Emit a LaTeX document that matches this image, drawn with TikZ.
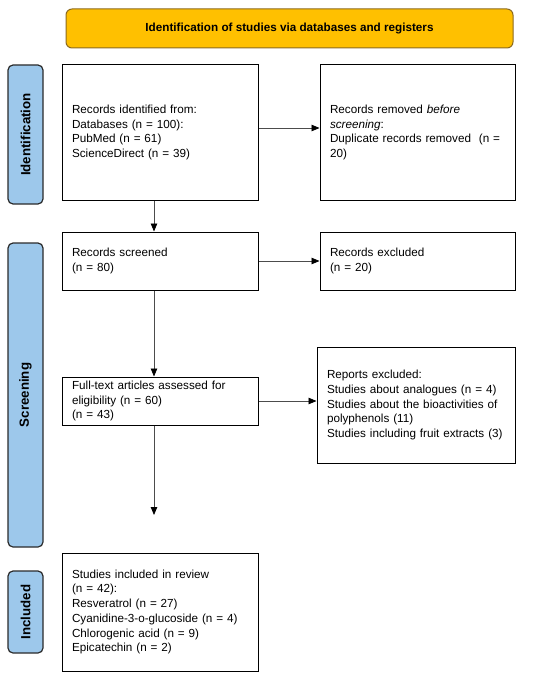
\documentclass[tikz,border=0pt]{standalone}
\usepackage{fontspec}
\setmainfont{Liberation Sans}
\usepackage{tikz}
\usepackage{xcolor}
\usetikzlibrary{arrows.meta}

\definecolor{bannerfill}{HTML}{FFC000}
\definecolor{bannerline}{HTML}{8C6A1E}
\definecolor{sidefill}{HTML}{9DC8EB}
\definecolor{sideline}{HTML}{2B2B2B}

\tikzset{
  box/.style={draw=black, line width=1pt, fill=white, align=left, inner xsep=10pt, inner ysep=2pt,
    font=\fontsize{11.7}{14.7}\selectfont},
  sidelab/.style={draw=sideline, fill=sidefill, line width=1.2pt, rounded corners=5pt,
    minimum height=35pt, font=\fontsize{13.3}{15}\selectfont\bfseries, rotate=90},
  banner/.style={draw=bannerline, fill=bannerfill, line width=1pt, rounded corners=6pt,
    font=\fontsize{11.7}{13}\selectfont\bfseries},
  arr/.style={draw=gray!60!black, line width=0.8pt, -{Triangle[length=8pt,width=6.5pt,black]}}
}

\begin{document}
\begin{tikzpicture}[x=1pt, y=-1pt]
\useasboundingbox (0,0) rectangle (550,677);

% header
\node[banner, minimum width=447pt, minimum height=39pt] (head) at (289.5,28.5) {Identification of studies via databases and registers};

% side labels
\node[sidelab, minimum width=139pt] (lid) at (25.5,134.5) {Identification};
\node[sidelab, minimum width=304pt] (lsc) at (25.5,395) {Screening};
\node[sidelab, minimum width=82pt] (lin) at (25.5,612) {Included};

% left column
\node[box, text width=176pt, minimum height=135pt] (ident) at (160,132.5) {Records identified from:\\Databases (n = 100):\\PubMed (n = 61)\\ScienceDirect (n = 39)};
\node[box, text width=176pt, minimum height=58pt] (scr) at (160,261) {Records screened\\(n = 80)};
\node[box, text width=176pt, minimum height=48pt] (full) at (160,401) {Full-text articles assessed for\\eligibility (n = 60)\\(n = 43)};
\node[box, text width=176pt, minimum height=118pt] (incl) at (160,612) {Studies included in review\\(n = 42):\\Resveratrol (n = 27)\\Cyanidine-3-o-glucoside (n = 4)\\Chlorogenic acid (n = 9)\\Epicatechin (n = 2)};

% right column
\node[box, text width=175pt, minimum height=135pt] (dupl) at (417.5,132.5) {Records removed \textit{before}\\\textit{screening}:\\Duplicate records removed~~(n =\\20)};
\node[box, text width=175pt, minimum height=58pt] (excl) at (417.5,261) {Records excluded\\(n = 20)};
\node[box, text width=178pt, minimum height=116pt] (rep) at (416,405) {Reports excluded:\\Studies about analogues (n = 4)\\Studies about the bioactivities of\\polyphenols (11)\\Studies including fruit extracts (3)};

\coordinate (col) at (154,0);
\coordinate (stop) at (154,515);

% connectors
\draw[arr] ([yshift=4.5pt]ident.east) -- ([yshift=4.5pt]ident.east -| dupl.west);
\draw[arr] (scr.east) -- (scr.east -| excl.west);
\draw[arr] (full.east) -- (full.east -| rep.west);
\draw[arr] (ident.south -| col) -- (scr.north -| col);
\draw[arr] (scr.south -| col) -- (full.north -| col);
\draw[arr] (full.south -| col) -- (stop);
\end{tikzpicture}
\end{document}
